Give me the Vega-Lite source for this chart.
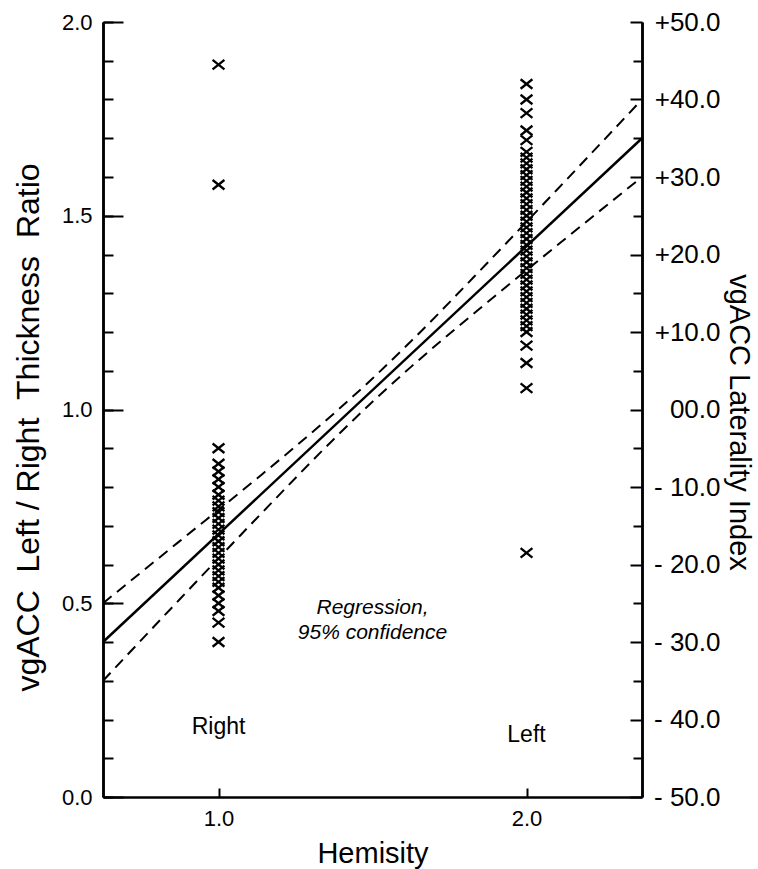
{
  "$schema": "https://vega.github.io/schema/vega-lite/v6.json",
  "autosize": {"type": "none"},
  "padding": {"left": 103, "top": 22, "right": 116, "bottom": 72},
  "width": 539,
  "height": 775,
  "background": "white",
  "config": {
    "font": "Liberation Sans",
    "view": {"stroke": null},
    "axis": {"domainColor": "black", "domainWidth": 2.5, "tickColor": "black", "tickWidth": 2, "labelColor": "black", "titleColor": "black", "grid": false, "labelFont": "Liberation Sans", "titleFont": "Liberation Sans", "titleFontWeight": "normal"}
  },
  "datasets": {
    "pts": [
      {"hemisity": 1, "ratio": 0.40}, {"hemisity": 1, "ratio": 0.45}, {"hemisity": 1, "ratio": 0.48},
      {"hemisity": 1, "ratio": 0.50}, {"hemisity": 1, "ratio": 0.52}, {"hemisity": 1, "ratio": 0.54},
      {"hemisity": 1, "ratio": 0.555}, {"hemisity": 1, "ratio": 0.57}, {"hemisity": 1, "ratio": 0.585},
      {"hemisity": 1, "ratio": 0.60}, {"hemisity": 1, "ratio": 0.615}, {"hemisity": 1, "ratio": 0.63},
      {"hemisity": 1, "ratio": 0.645}, {"hemisity": 1, "ratio": 0.66}, {"hemisity": 1, "ratio": 0.675},
      {"hemisity": 1, "ratio": 0.69}, {"hemisity": 1, "ratio": 0.705}, {"hemisity": 1, "ratio": 0.72},
      {"hemisity": 1, "ratio": 0.735}, {"hemisity": 1, "ratio": 0.75}, {"hemisity": 1, "ratio": 0.765},
      {"hemisity": 1, "ratio": 0.78}, {"hemisity": 1, "ratio": 0.80}, {"hemisity": 1, "ratio": 0.82},
      {"hemisity": 1, "ratio": 0.84}, {"hemisity": 1, "ratio": 0.86}, {"hemisity": 1, "ratio": 0.90},
      {"hemisity": 1, "ratio": 1.58}, {"hemisity": 1, "ratio": 1.89},
      {"hemisity": 2, "ratio": 0.63}, {"hemisity": 2, "ratio": 1.055}, {"hemisity": 2, "ratio": 1.12},
      {"hemisity": 2, "ratio": 1.165}, {"hemisity": 2, "ratio": 1.20}, {"hemisity": 2, "ratio": 1.215},
      {"hemisity": 2, "ratio": 1.23}, {"hemisity": 2, "ratio": 1.245}, {"hemisity": 2, "ratio": 1.26},
      {"hemisity": 2, "ratio": 1.275}, {"hemisity": 2, "ratio": 1.29}, {"hemisity": 2, "ratio": 1.305},
      {"hemisity": 2, "ratio": 1.32}, {"hemisity": 2, "ratio": 1.335}, {"hemisity": 2, "ratio": 1.35},
      {"hemisity": 2, "ratio": 1.365}, {"hemisity": 2, "ratio": 1.38}, {"hemisity": 2, "ratio": 1.395},
      {"hemisity": 2, "ratio": 1.41}, {"hemisity": 2, "ratio": 1.425}, {"hemisity": 2, "ratio": 1.44},
      {"hemisity": 2, "ratio": 1.455}, {"hemisity": 2, "ratio": 1.47}, {"hemisity": 2, "ratio": 1.485},
      {"hemisity": 2, "ratio": 1.50}, {"hemisity": 2, "ratio": 1.515}, {"hemisity": 2, "ratio": 1.53},
      {"hemisity": 2, "ratio": 1.545}, {"hemisity": 2, "ratio": 1.56}, {"hemisity": 2, "ratio": 1.575},
      {"hemisity": 2, "ratio": 1.59}, {"hemisity": 2, "ratio": 1.605}, {"hemisity": 2, "ratio": 1.62},
      {"hemisity": 2, "ratio": 1.635}, {"hemisity": 2, "ratio": 1.65}, {"hemisity": 2, "ratio": 1.665},
      {"hemisity": 2, "ratio": 1.695}, {"hemisity": 2, "ratio": 1.72}, {"hemisity": 2, "ratio": 1.765},
      {"hemisity": 2, "ratio": 1.80}, {"hemisity": 2, "ratio": 1.84}
    ],
    "reg": [
      {"hemisity": 0.625, "ratio": 0.40}, {"hemisity": 2.375, "ratio": 1.70}
    ],
    "ci": [
      {"hemisity": 0.625, "ratio": 0.500, "band": "upper"},
      {"hemisity": 0.875, "ratio": 0.661, "band": "upper"},
      {"hemisity": 1.125, "ratio": 0.822, "band": "upper"},
      {"hemisity": 1.375, "ratio": 0.990, "band": "upper"},
      {"hemisity": 1.5, "ratio": 1.080, "band": "upper"},
      {"hemisity": 1.625, "ratio": 1.176, "band": "upper"},
      {"hemisity": 1.875, "ratio": 1.380, "band": "upper"},
      {"hemisity": 2.125, "ratio": 1.589, "band": "upper"},
      {"hemisity": 2.375, "ratio": 1.800, "band": "upper"},
      {"hemisity": 0.625, "ratio": 0.300, "band": "lower"},
      {"hemisity": 0.875, "ratio": 0.511, "band": "lower"},
      {"hemisity": 1.125, "ratio": 0.720, "band": "lower"},
      {"hemisity": 1.375, "ratio": 0.924, "band": "lower"},
      {"hemisity": 1.5, "ratio": 1.020, "band": "lower"},
      {"hemisity": 1.625, "ratio": 1.110, "band": "lower"},
      {"hemisity": 1.875, "ratio": 1.278, "band": "lower"},
      {"hemisity": 2.125, "ratio": 1.440, "band": "lower"},
      {"hemisity": 2.375, "ratio": 1.600, "band": "lower"}
    ],
    "sides": [
      {"hemisity": 1, "ratio": 0.18, "label": "Right"},
      {"hemisity": 2, "ratio": 0.16, "label": "Left"}
    ],
    "note": [
      {"hemisity": 1.5, "ratio": 0.488, "label": "Regression,"},
      {"hemisity": 1.5, "ratio": 0.424, "label": "95% confidence"}
    ]
  },
  "resolve": {"scale": {"y": "independent"}, "axis": {"y": "independent", "x": "independent"}},
  "layer": [
    {
      "data": {"name": "pts"},
      "mark": {"type": "point", "shape": "M-1,-0.8L1,0.8M-1,0.8L1,-0.8", "filled": false, "stroke": "black", "strokeWidth": 2.3, "size": 140, "opacity": 1},
      "encoding": {
        "x": {"field": "hemisity", "type": "quantitative", "scale": {"domain": [0.625, 2.375], "nice": false, "zero": false},
          "axis": {"values": [1, 2], "format": ".1f", "tickSize": -9, "labelFontSize": 22, "labelPadding": 20, "title": "Hemisity", "titleFontSize": 29, "titleY": 65, "titleBaseline": "alphabetic"}},
        "y": {"field": "ratio", "type": "quantitative", "scale": {"domain": [0, 2], "nice": false, "zero": false},
          "axis": {"orient": "left", "values": [0, 0.5, 1, 1.5, 2], "format": ".1f", "tickSize": -20, "labelFontSize": 22, "labelPadding": 31, "title": "vgACC\u00a0\u00a0Left / Right\u00a0\u00a0Thickness\u00a0\u00a0Ratio", "titleFontSize": 32, "titleX": -75, "titleY": 405, "titleAlign": "center", "titleBaseline": "middle", "titleAngle": -90}}
      }
    },
    {
      "data": {"name": "reg"},
      "mark": {"type": "line", "color": "black", "strokeWidth": 2.5},
      "encoding": {
        "x": {"field": "hemisity", "type": "quantitative", "scale": {"domain": [0.625, 2.375], "nice": false, "zero": false}, "axis": null},
        "y": {"field": "ratio", "type": "quantitative", "scale": {"domain": [0, 2], "nice": false, "zero": false},
          "axis": {"orient": "left", "values": [0, 0.1, 0.2, 0.3, 0.4, 0.5, 0.6, 0.7, 0.8, 0.9, 1, 1.1, 1.2, 1.3, 1.4, 1.5, 1.6, 1.7, 1.8, 1.9, 2], "tickSize": -10, "labels": false, "title": null}}
      }
    },
    {
      "data": {"name": "ci"},
      "mark": {"type": "line", "color": "black", "strokeWidth": 2, "strokeDash": [11, 7], "interpolate": "monotone"},
      "encoding": {
        "detail": {"field": "band"},
        "x": {"field": "hemisity", "type": "quantitative", "scale": {"domain": [0.625, 2.375], "nice": false, "zero": false}, "axis": null},
        "y": {"field": "ratio", "type": "quantitative", "scale": {"domain": [0, 2], "nice": false, "zero": false},
          "axis": {"orient": "right", "values": [0, 0.2, 0.4, 0.6, 0.8, 1, 1.2, 1.4, 1.6, 1.8, 2], "tickSize": -12, "labelFontSize": 26, "labelPadding": 90, "labelAlign": "right",
            "labelExpr": "datum.value > 1.001 ? '+' + format((datum.value - 1) * 50, '.1f') : (datum.value < 0.999 ? '- ' + format((1 - datum.value) * 50, '.1f') : '00.0')",
            "title": "vgACC Laterality Index", "titleFontSize": 29, "titleX": 96, "titleY": 400, "titleAlign": "center", "titleBaseline": "middle", "titleAngle": 90}}
      }
    },
    {
      "data": {"name": "sides"},
      "mark": {"type": "text", "fontSize": 23, "color": "black", "font": "Liberation Sans"},
      "encoding": {
        "text": {"field": "label"},
        "x": {"field": "hemisity", "type": "quantitative", "scale": {"domain": [0.625, 2.375], "nice": false, "zero": false}, "axis": null},
        "y": {"field": "ratio", "type": "quantitative", "scale": {"domain": [0, 2], "nice": false, "zero": false},
          "axis": {"orient": "right", "values": [0.1, 0.3, 0.5, 0.7, 0.9, 1.1, 1.3, 1.5, 1.7, 1.9], "tickSize": -9, "labels": false, "title": null}}
      }
    },
    {
      "data": {"name": "note"},
      "mark": {"type": "text", "fontSize": 21, "fontStyle": "italic", "color": "black", "font": "Liberation Sans"},
      "encoding": {
        "text": {"field": "label"},
        "x": {"field": "hemisity", "type": "quantitative", "scale": {"domain": [0.625, 2.375], "nice": false, "zero": false}, "axis": null},
        "y": {"field": "ratio", "type": "quantitative", "scale": {"domain": [0, 2], "nice": false, "zero": false}, "axis": null}
      }
    }
  ]
}
